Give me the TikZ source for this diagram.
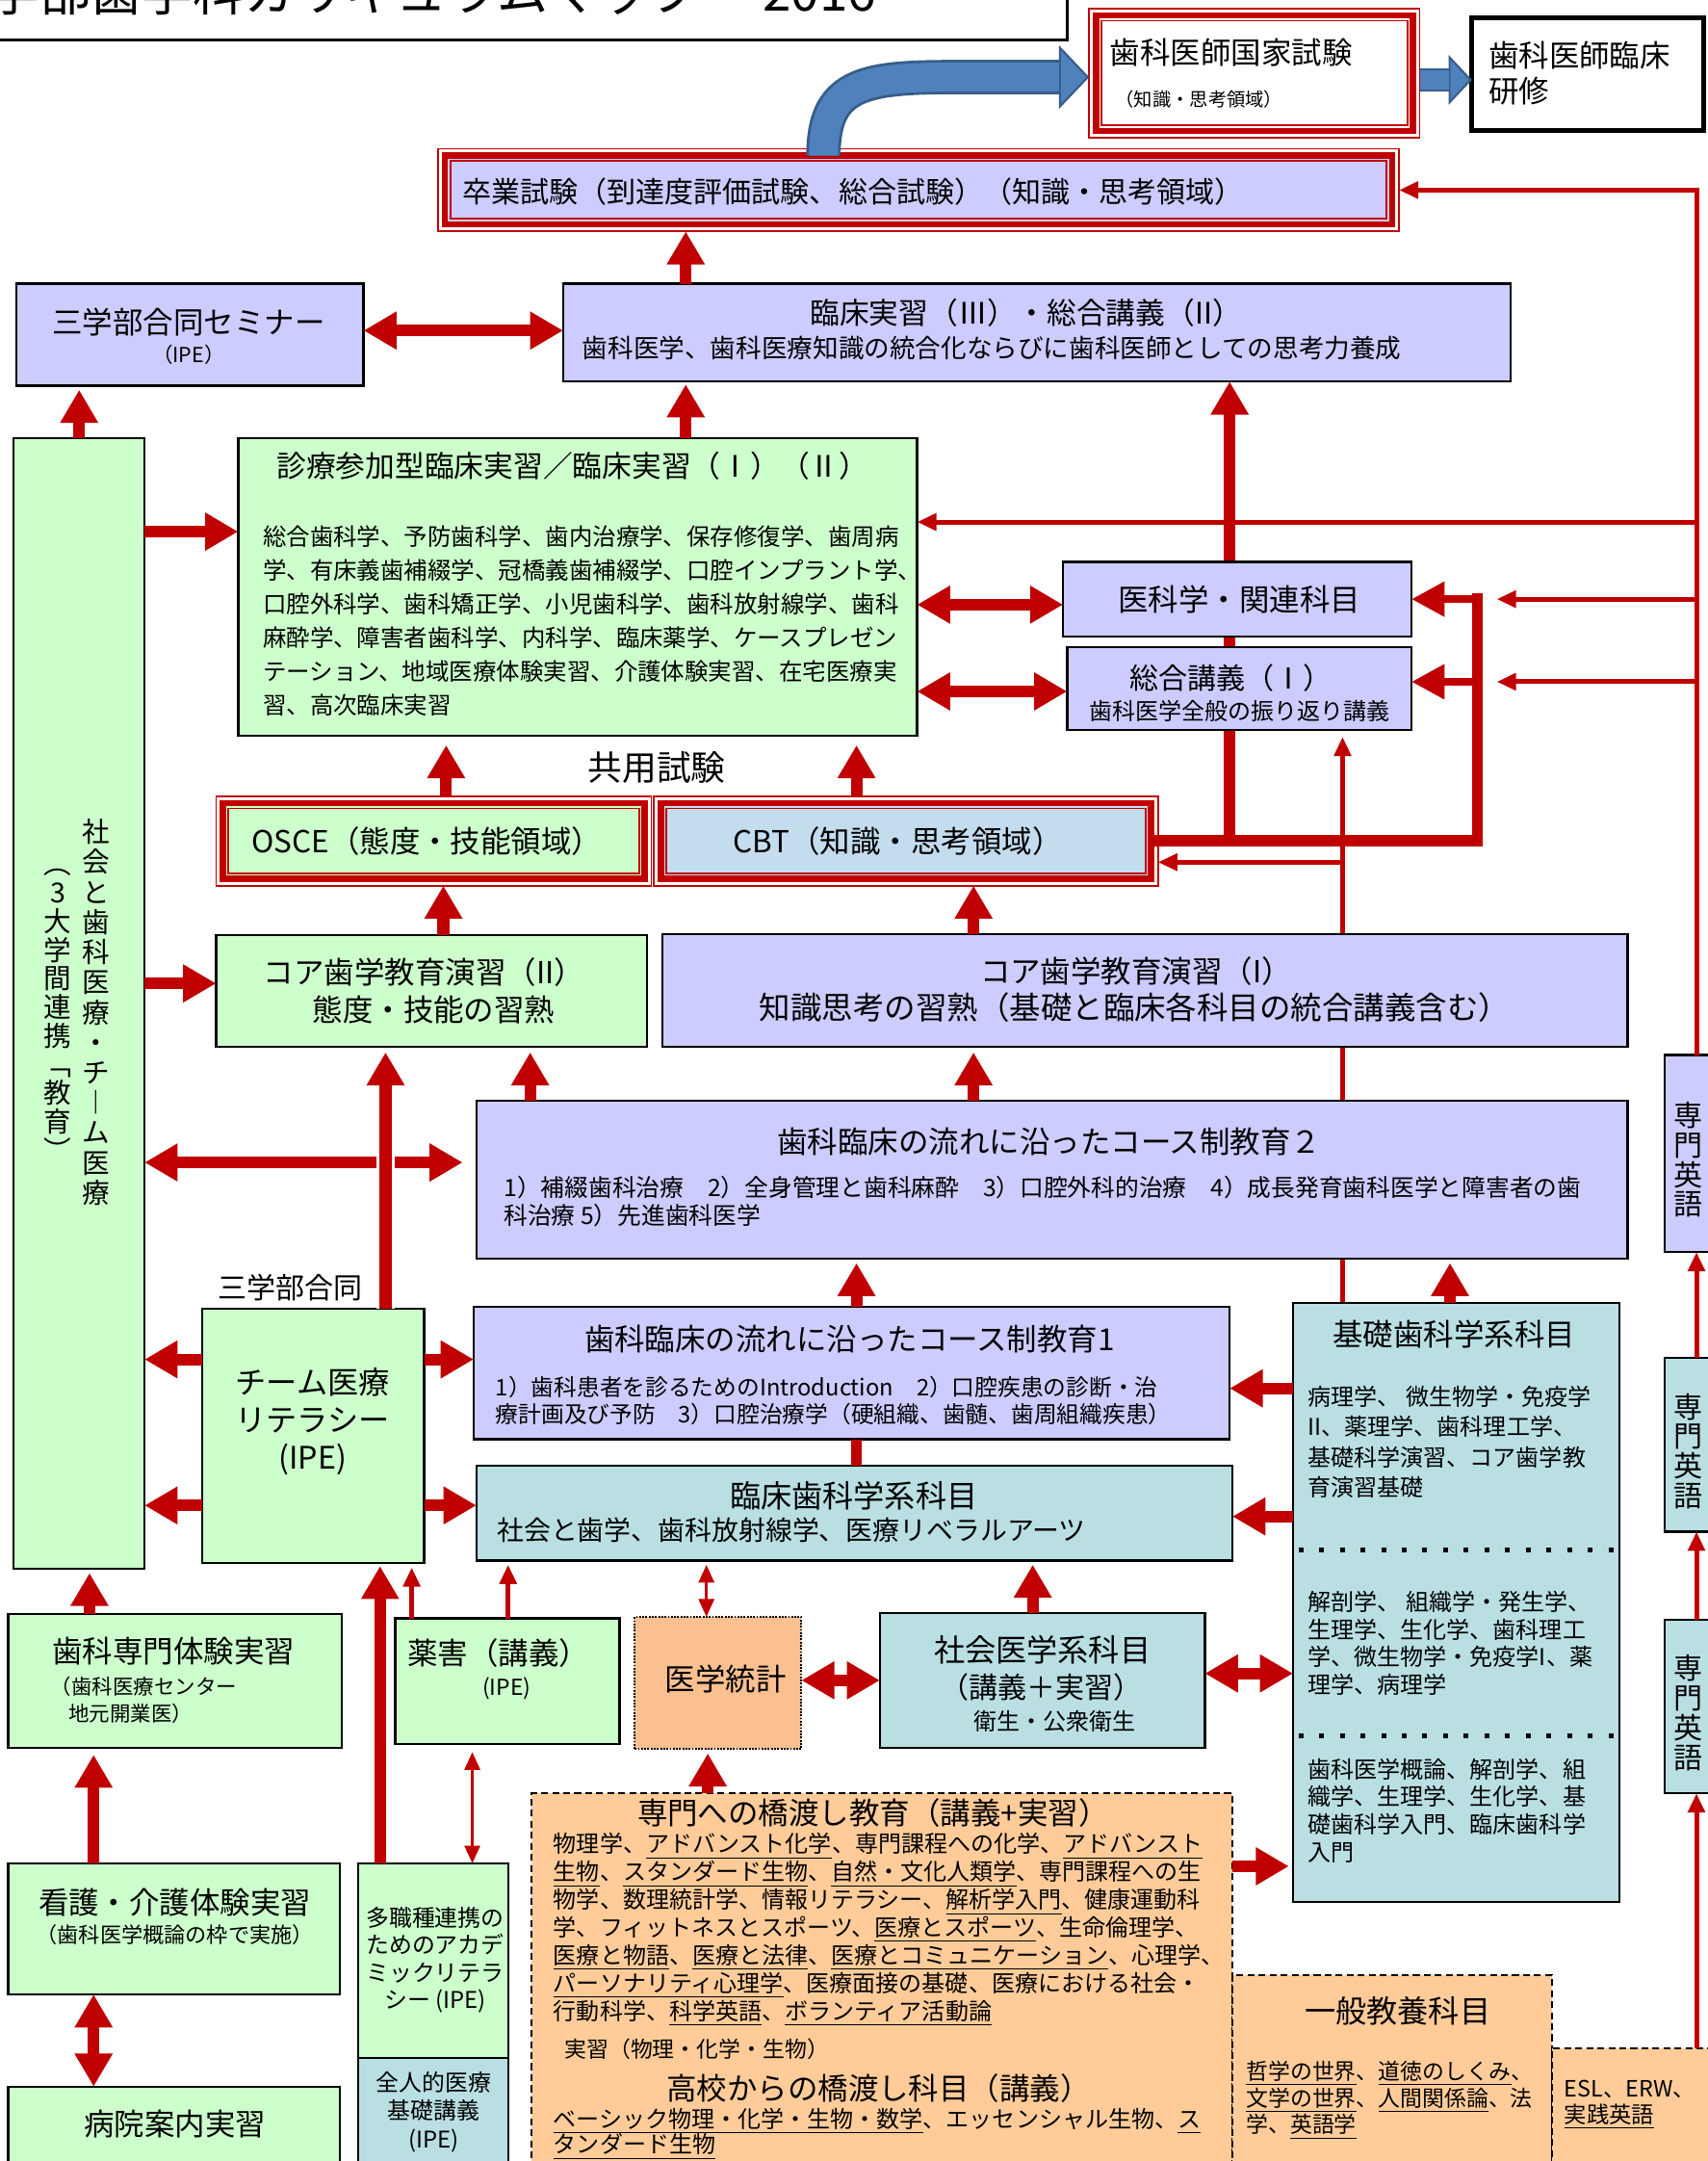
\documentclass[tikz,border=0pt]{standalone}
\usepackage{fontspec}
\setmainfont{Noto Sans CJK JP}
\usetikzlibrary{arrows.meta}
\definecolor{myred}{HTML}{C00000}
\definecolor{boxl}{HTML}{CCCCFF}
\definecolor{boxg}{HTML}{CCFFCC}
\definecolor{boxt}{HTML}{B9DFE3}
\definecolor{boxo}{HTML}{FFCC99}
\definecolor{boxs}{HTML}{FAC090}
\definecolor{boxc}{HTML}{C3DCEE}
\definecolor{bluea}{HTML}{4F81BD}
\definecolor{blueb}{HTML}{385D8A}
\newcommand{\ulx}[1]{\underline{\rule[-0.14em]{0pt}{0pt}#1}}
\pgfdeclarelayer{back}
\pgfsetlayers{back,main}
\tikzset{
    mybox/.style = {rectangle, draw=black, line width=1.6pt, inner sep=0pt, outer sep=0pt, align=center},
    myboxl/.style = {mybox, fill=boxl},
    myboxg/.style = {mybox, fill=boxg},
    myboxt/.style = {mybox, fill=boxt},
    myboxo/.style = {mybox, fill=boxo, line width=1.3pt, dash pattern=on 5pt off 3pt},
    myboxs/.style = {mybox, fill=boxs, line width=1.3pt, densely dotted},
    myboxr/.style = {mybox, draw=myred, line width=4.5pt},
    framer/.style = {draw=myred, line width=1.3pt},
    mytext/.style = {inner sep=0pt, outer sep=0pt, align=left},
    fbig/.style = {font=\fontsize{22}{26}\selectfont},
    edgek/.style = {-{Triangle[width=26pt,length=24pt]}, line width=8.5pt, myred},
    edgekk/.style = {{Triangle[width=26pt,length=24pt]}-{Triangle[width=26pt,length=24pt]}, line width=8.5pt, myred},
    edgem/.style = {-{Triangle[width=24pt,length=24pt]}, line width=6pt, myred},
    edget/.style = {-{Triangle[width=12pt,length=14pt]}, line width=3.5pt, myred},
    edgett/.style = {{Triangle[width=11pt,length=13pt]}-{Triangle[width=11pt,length=13pt]}, line width=2.5pt, myred},
    edgen/.style = {-, line width=8pt, line cap=rect, myred},
    edgeu/.style = {line width=25pt, blueb, -{Triangle[width=46pt,length=22pt,fill=bluea,line width=1.5pt]}},
    edgev/.style = {line width=17pt, blueb, -{Triangle[width=36pt,length=17pt,fill=bluea,line width=1.5pt]}},
    edgeui/.style = {line width=#1, bluea},
    kisodot/.style = {line width=3.5pt, dash pattern=on 3.5pt off 11.5pt, black}
}
\begin{document}
\begin{tikzpicture}[x=1pt,y=-1pt]
\useasboundingbox (0,0) rectangle (1240,1569);

% title and exams
\node[mybox, fill=white, line width=2.2pt, minimum width=790pt, minimum height=44pt] at (380,7) (titlebox) {};
\node[mytext, font=\fontsize{37}{40}\selectfont, anchor=west] at (-8,-6) (titlet) {学部歯学科カリキュラムマップ　 2016};
\node[myboxr, fill=white, minimum width=230pt, minimum height=84pt] at (911,53) (kokushi) {};
\node[mytext, fbig, anchor=west] at (806,38) (kokushit) {歯科医師国家試験};
\node[mytext, font=\fontsize{13.5}{16}\selectfont, anchor=west] at (810,72) (kokushib) {（知識・思考領域）};
\node[mybox, fill=white, line width=3.5pt, minimum width=168pt, minimum height=82pt] at (1153,54) (rinshu) {};
\node[mytext, fbig, anchor=west] at (1081,53) (rinshut) {歯科医師臨床\\研修};
\node[myboxr, fill=boxl, minimum width=688pt, minimum height=50pt] at (667,138) (sotsu) {};
\node[mytext, font=\fontsize{21}{24}\selectfont, anchor=west] at (336,139) (sotsut) {卒業試験（到達度評価試験、総合試験）（知識・思考領域）};

% upper boxes
\node[myboxl, minimum width=252pt, minimum height=74pt] at (138,243) (seminar) {};
\node[mytext, fbig] at (137,234) (seminart) {三学部合同セミナー};
\node[mytext, font=\fontsize{15}{18}\selectfont] at (137,257.5) (seminarb) {（IPE）};
\node[myboxl, minimum width=688pt, minimum height=71pt] at (753,241.5) (rinsho3) {};
\node[mytext, font=\fontsize{21.5}{24}\selectfont] at (745,227) (rinsho3t) {臨床実習（Ⅲ）・総合講義（II）};
\node[mytext, font=\fontsize{18.6}{22}\selectfont, anchor=west] at (423,253) (rinsho3b) {歯科医学、歯科医療知識の統合化ならびに歯科医師としての思考力養成};

\node[myboxg, minimum width=95pt, minimum height=821pt] at (57.5,728.5) (shakai) {};
\node[mytext, align=center, font=\fontsize{20}{21.83}\selectfont] at (70,735) (shakaia) {社\\会\\と\\歯\\科\\医\\療\\・\\チ\\︱\\ム\\医\\療};
\node[mytext, align=center, font=\fontsize{20}{20.8}\selectfont] at (42,737) (shakaib) {︵\\3\\大\\学\\間\\連\\携\\﹁\\教\\育\\︶};

\node[myboxg, minimum width=493pt, minimum height=216pt] at (419.5,426) (shinryo) {};
\node[mytext, font=\fontsize{21.5}{24}\selectfont] at (416,338) (shinryot) {診療参加型臨床実習／臨床実習（Ⅰ）（Ⅱ）};
\node[mytext, font=\fontsize{17.1}{24.5}\selectfont, anchor=west] at (191,450.75) (shinryob) {総合歯科学、予防歯科学、歯内治療学、保存修復学、歯周病\\学、有床義歯補綴学、冠橋義歯補綴学、口腔インプラント学、\\口腔外科学、歯科矯正学、小児歯科学、歯科放射線学、歯科\\麻酔学、障害者歯科学、内科学、臨床薬学、ケースプレゼン\\テーション、地域医療体験実習、介護体験実習、在宅医療実\\習、高次臨床実習};

\node[myboxl, minimum width=253pt, minimum height=54pt] at (898.5,435) (ika) {};
\node[mytext, fbig] at (900,435) (ikat) {医科学・関連科目};
\node[myboxl, minimum width=250pt, minimum height=60pt] at (900,500) (sogo1) {};
\node[mytext, font=\fontsize{21}{24}\selectfont] at (894,492) (sogo1t) {総合講義（Ⅰ）};
\node[mytext, font=\fontsize{16.8}{20}\selectfont] at (900,516) (sogo1b) {歯科医学全般の振り返り講義};

\node[mytext, font=\fontsize{25}{28}\selectfont] at (477,557) (kyoyo) {共用試験};
\node[myboxr, fill=boxg, minimum width=306pt, minimum height=55pt] at (315,610.5) (osce) {};
\node[mytext, fbig] at (310,611) (oscet) {OSCE（態度・技能領域）};
\node[myboxr, fill=boxc, minimum width=356pt, minimum height=55pt] at (658,610.5) (cbt) {};
\node[mytext, fbig] at (652,611) (cbtt) {CBT（知識・思考領域）};

\node[myboxg, minimum width=313pt, minimum height=81pt] at (313.5,719.5) (core2) {};
\node[mytext, fbig] at (308,706) (core2t) {コア歯学教育演習（II）};
\node[mytext, fbig] at (315,733) (core2b) {態度・技能の習熟};
\node[myboxl, minimum width=701pt, minimum height=82pt] at (831.5,719) (core1) {};
\node[mytext, fbig] at (825,705) (core1t) {コア歯学教育演習（I）};
\node[mytext, font=\fontsize{22.7}{26}\selectfont] at (824,731.5) (core1b) {知識思考の習熟（基礎と臨床各科目の統合講義含む）};

\node[myboxl, minimum width=836pt, minimum height=115pt] at (764,856.5) (course2) {};
\node[mytext, fbig] at (762,829) (course2t) {歯科臨床の流れに沿ったコース制教育２};
\node[mytext, font=\fontsize{17.3}{20.5}\selectfont, anchor=west] at (366,872.25) (course2b) {1）補綴歯科治療　2）全身管理と歯科麻酔　3）口腔外科的治療　4）成長発育歯科医学と障害者の歯\\科治療 5）先進歯科医学};

% middle boxes
\node[mytext, font=\fontsize{21}{24}\selectfont] at (211,935) (sangaku) {三学部合同};
\node[myboxg, minimum width=161pt, minimum height=185pt] at (227.5,1042.5) (team) {};
\node[mytext, align=center, font=\fontsize{22.5}{27.25}\selectfont] at (227,1032) (teamt) {チーム医療\\リテラシー\\(IPE)};
\node[myboxl, minimum width=549pt, minimum height=96pt] at (618.5,997) (course1) {};
\node[mytext, fbig] at (617,972) (course1t) {歯科臨床の流れに沿ったコース制教育1};
\node[mytext, font=\fontsize{16.6}{20}\selectfont, anchor=west] at (360,1017) (course1b) {1）歯科患者を診るためのIntroduction　2）口腔疾患の診断・治\\療計画及び予防　3）口腔治療学（硬組織、歯髄、歯周組織疾患）};
\node[myboxt, minimum width=549pt, minimum height=69pt] at (620.5,1098.5) (rinshoka) {};
\node[mytext, font=\fontsize{22.5}{26}\selectfont] at (620,1086) (rinshokat) {臨床歯科学系科目};
\node[mytext, font=\fontsize{19.5}{22}\selectfont, anchor=west] at (361,1111) (rinshokab) {社会と歯学、歯科放射線学、医療リベラルアーツ};

\node[myboxt, minimum width=237pt, minimum height=435pt] at (1057.5,1163.5) (kiso) {};
\node[mytext, fbig] at (1056,968.5) (kisot) {基礎歯科学系科目};
\node[mytext, font=\fontsize{16.8}{22}\selectfont, anchor=west] at (950,1047) (kisoa) {病理学、 微生物学・免疫学\\II、薬理学、歯科理工学、\\基礎科学演習、コア歯学教\\育演習基礎};
\node[mytext, font=\fontsize{16.8}{20}\selectfont, anchor=west] at (950,1193) (kisob) {解剖学、 組織学・発生学、\\生理学、生化学、歯科理工\\学、微生物学・免疫学I、薬\\理学、病理学};
\node[mytext, font=\fontsize{16.8}{20}\selectfont, anchor=west] at (950,1314.5) (kisoc) {歯科医学概論、解剖学、組\\織学、生理学、生化学、基\\礎歯科学入門、臨床歯科学\\入門};
\draw[kisodot] (943,1125) -- (1173,1125);
\draw[kisodot] (943,1260) -- (1173,1260);

\node[myboxg, minimum width=242pt, minimum height=97pt] at (127,1220.5) (senmon) {};
\node[mytext, fbig] at (126,1199) (senmont) {歯科専門体験実習};
\node[mytext, font=\fontsize{15}{19.5}\selectfont, anchor=west] at (37,1234) (senmonb) {（歯科医療センター\\\hspace*{13pt}地元開業医）};
\node[myboxg, minimum width=163pt, minimum height=91pt] at (368.5,1220.5) (yakugai) {};
\node[mytext, fbig] at (362,1200) (yakugait) {薬害（講義）};
\node[mytext, font=\fontsize{16}{19}\selectfont] at (368,1226) (yakugaib) {(IPE)};
\node[myboxs, minimum width=121pt, minimum height=96pt] at (521.5,1222) (toukei) {};
\node[mytext, fbig] at (527,1219) (toukeit) {医学統計};
\node[myboxt, minimum width=236pt, minimum height=98pt] at (757,1220) (shakaii) {};
\node[mytext, font=\fontsize{22.5}{26}\selectfont] at (757,1198) (shakaiit) {社会医学系科目};
\node[mytext, font=\fontsize{21}{24}\selectfont] at (756,1225) (shakaiim) {（講義＋実習）};
\node[mytext, font=\fontsize{16.8}{20}\selectfont] at (766,1250) (shakaiib) {衛生・公衆衛生};

% lower boxes
\node[myboxo, minimum width=509pt, minimum height=290pt] at (640.5,1447) (bridge) {};
\node[mytext, fbig] at (634,1316) (bridget) {専門への橋渡し教育（講義+実習）};
\node[mytext, font=\fontsize{16.8}{20.2}\selectfont, anchor=west] at (402,1400.7) (bridgea) {物理学、\ulx{アドバンスト化学}、専門課程への化学、\ulx{アドバンスト}\\\ulx{生物}、\ulx{スタンダード生物}、\ulx{自然・文化人類学}、専門課程への生\\物学、数理統計学、情報リテラシー、\ulx{解析学入門}、健康運動科\\学、フィットネスとスポーツ、\ulx{医療とスポーツ}、生命倫理学、\\\ulx{医療と物語}、\ulx{医療と法律}、\ulx{医療とコミュニケーション}、心理学、\\\ulx{パーソナリティ心理学}、医療面接の基礎、医療における社会・\\行動科学、\ulx{科学英語}、\ulx{ボランティア活動論}};
\node[mytext, font=\fontsize{16}{19}\selectfont, anchor=west] at (410,1488) (bridgeb) {実習（物理・化学・生物）};
\node[mytext, fbig] at (638,1516) (bridgec) {高校からの橋渡し科目（講義）};
\node[mytext, font=\fontsize{16.8}{18.6}\selectfont, anchor=west] at (402,1549) (bridged) {\ulx{ベーシック物理・化学・生物・数学}、エッセンシャル生物、\ulx{ス}\\\ulx{タンダード生物}};
\node[myboxo, minimum width=232pt, minimum height=160pt] at (1011,1514) (ippan) {};
\node[mytext, font=\fontsize{22.5}{26}\selectfont] at (1015,1460) (ippant) {一般教養科目};
\node[mytext, font=\fontsize{16}{19.5}\selectfont, anchor=west] at (905,1524.5) (ippanb) {\ulx{哲学の世界}、\ulx{道徳のしくみ}、\\\ulx{文学の世界}、\ulx{人間関係論}、法\\学、\ulx{英語学}};
\node[myboxo, minimum width=140pt, minimum height=110pt] at (1197,1542) (esl) {};
\node[mytext, font=\fontsize{16.3}{18.5}\selectfont, anchor=west] at (1136,1528) (eslt) {ESL、ERW、\\\ulx{実践英語}};

\node[myboxg, minimum width=241pt, minimum height=95pt] at (126.5,1400.5) (kango) {};
\node[mytext, fbig] at (127,1381) (kangot) {看護・介護体験実習};
\node[mytext, font=\fontsize{15.5}{18}\selectfont] at (127,1405) (kangob) {（歯科医学概論の枠で実施）};
\node[myboxg, minimum width=241pt, minimum height=64pt] at (126.5,1547) (byoin) {};
\node[mytext, fbig] at (127,1542) (byoint) {病院案内実習};
\node[myboxg, minimum width=109pt, minimum height=141pt] at (314.5,1423.5) (tashoku) {};
\node[mytext, align=center, font=\fontsize{16.7}{20}\selectfont] at (316,1423) (tashokut) {多職種連携の\\ためのアカデ\\ミックリテラ\\シー (IPE)};
\node[myboxt, minimum width=109pt, minimum height=82pt] at (314.5,1535) (zenjin) {};
\node[mytext, align=center, font=\fontsize{16.7}{20.5}\selectfont] at (315,1533.5) (zenjint) {全人的医療\\基礎講義\\(IPE)};

\node[myboxl, minimum width=45pt, minimum height=143pt] at (1231.5,837.5) (eigo1) {};
\node[myboxt, minimum width=45pt, minimum height=126pt] at (1231.5,1049) (eigo2) {};
\node[myboxt, minimum width=45pt, minimum height=126pt] at (1231.5,1239) (eigo3) {};
\foreach \n/\y in {eigo1t/842,eigo2t/1053.5,eigo3t/1243.5}
    \node[mytext, align=center, font=\fontsize{21}{21.5}\selectfont] at (1226,\y) (\n) {専\\門\\英\\語};

\foreach \n in {kokushi,sotsu,osce,cbt} {
    \draw[framer] ([shift={(-5,-5)}]\n.north west) rectangle ([shift={(5,5)}]\n.south east);
    \draw[framer] ([shift={(4,4)}]\n.north west) rectangle ([shift={(-4,-4)}]\n.south east);
}

% lines behind the boxes
\begin{pgfonlayer}{back}
\draw[edgen] (cbt.east) -- (cbt.east -| 1073,0) -- (ika.east -| 1073,0);
\draw[edgek] (cbt.east -| 893,0) -- (rinsho3.south -| 893,0);
\draw[edget, shorten >=5pt] (kiso.north -| 975,0) -- (sogo1.south -| 975,0);
\end{pgfonlayer}

% right rail
\coordinate (cbtjoin) at (975,626);
\coordinate (railshin) at (1232,379);
\coordinate (railsogo) at (1232,495);
\draw[edget, shorten >=5pt] (cbtjoin) -- (cbt.east |- cbtjoin);
\draw[edget] (esl.north -| 1232,0) -- (eigo3.south -| 1232,0);
\draw[edget] (eigo3.north -| 1232,0) -- (eigo2.south -| 1232,0);
\draw[edget] (eigo2.north -| 1232,0) -- (eigo1.south -| 1232,0);
\draw[edget, shorten >=5pt] (eigo1.north -| 1232,0) |- (sotsu.east);
\draw[edget] (railshin) -- (shinryo.east |- railshin);
\draw[edget] (ika.east -| 1232,0) -- (ika.east -| 1087,0);
\draw[edget] (railsogo) -- (railsogo -| 1087,0);
\draw[edgem] (ika.east -| 1073,0) -- (ika.east);
\draw[edgem] (railsogo -| 1073,0) -- (railsogo -| sogo1.east);

% block arrows
\draw[edgek, shorten >=5pt] (rinsho3.north -| 498,0) -- (sotsu.south -| 498,0);
\draw[edgekk] (seminar.east |- 0,240) -- (rinsho3.west |- 0,240);
\draw[edgek, shorten >=3pt] (shakai.north) -- (shakai.north |- seminar.south);
\draw[edgek, shorten >=2pt] (shinryo.north -| 498,0) -- (rinsho3.south -| 498,0);
\draw[edgek] (shakai.east |- 0,386) -- (shinryo.west |- 0,386);
\draw[edgekk] (shinryo.east |- 0,439) -- (ika.west |- 0,439);
\draw[edgekk] (shinryo.east |- 0,502) -- (sogo1.west |- 0,502);
\draw[edgek, shorten <=5pt, shorten >=7pt] (osce.north -| 324,0) -- (shinryo.south -| 324,0);
\draw[edgek, shorten <=5pt, shorten >=7pt] (cbt.north -| 622,0) -- (shinryo.south -| 622,0);
\draw[edgek, shorten >=5pt] (core2.north -| 322,0) -- (osce.south -| 322,0);
\draw[edgek, shorten >=5pt] (core1.north -| 707,0) -- (cbt.south -| 707,0);
\draw[edgek] (shakai.east |- 0,714) -- (core2.west |- 0,714);
\draw[edgek, shorten >=4pt] (course2.north -| 385,0) -- (core2.south -| 385,0);
\draw[edgek, shorten >=4pt] (course2.north -| 707,0) -- (core1.south -| 707,0);
\draw[edgekk, shorten >=10pt] (shakai.east |- 0,844) -- (course2.west |- 0,844);
\draw[edgek, shorten >=4pt, preaction={draw=white, line width=13pt}] (team.north -| 280,0) -- (core2.south -| 280,0);
\draw[edgek] (team.west |- 0,987) -- (shakai.east |- 0,987);
\draw[edgek] (team.west |- 0,1093) -- (shakai.east |- 0,1093);
\draw[edgek] (team.east |- 0,987) -- (course1.west |- 0,987);
\draw[edgek] (team.east |- 0,1093) -- (rinshoka.west |- 0,1093);
\draw[edgek, shorten >=3pt] (course1.north -| 622,0) -- (course2.south -| 622,0);
\draw[edgen, line cap=butt] (course1.south -| 622,0) -- (rinshoka.north -| 622,0);
\draw[edgek] (kiso.west |- 0,1008) -- (course1.east |- 0,1008);
\draw[edgek] (kiso.west |- 0,1101) -- (rinshoka.east |- 0,1101);
\draw[edgek, shorten >=3pt] (kiso.north -| 1053,0) -- (course2.south -| 1053,0);
\draw[edgek, shorten >=3pt] (senmon.north -| 65,0) -- (shakai.south -| 65,0);
\draw[edgekk] (toukei.east |- 0,1220) -- (shakaii.west |- 0,1220);
\draw[edgek, shorten >=3pt] (shakaii.north -| 750,0) -- (rinshoka.south -| 750,0);
\draw[edgekk] (shakaii.east |- 0,1215) -- (kiso.west |- 0,1215);
\draw[edgek, shorten >=3pt] (bridge.north -| 514,0) -- (toukei.south -| 514,0);
\draw[edgek, shorten >=3pt] (bridge.east |- 0,1355) -- (kiso.west |- 0,1355);
\draw[edgek, shorten >=5pt] (kango.north -| 68,0) -- (senmon.south -| 68,0);
\draw[edgekk] (kango.south -| 68,0) -- (byoin.north -| 68,0);
\draw[edgek, shorten >=2pt] (tashoku.north -| 276,0) -- (team.south -| 276,0);
\draw[edget, shorten >=3pt] (yakugai.north -| 299,0) -- (team.south -| 299,0);
\draw[edget, shorten >=3pt] (yakugai.north -| 369,0) -- (rinshoka.south -| 369,0);
\draw[edgett, shorten >=3pt] (toukei.north -| 513,0) -- (rinshoka.south -| 513,0);
\draw[edgett, shorten <=6pt] (yakugai.south -| 343,0) -- (tashoku.north -| 343,0);

% blue arrows
\draw[edgeu, shorten >=5pt] (sotsu.north -| 598,0) .. controls (598,62) and (625,56) .. (690,56) -- (kokushi.west |- 0,56);
\draw[edgeui=21pt, shorten >=27pt] (sotsu.north -| 598,0) .. controls (598,62) and (625,56) .. (690,56) -- (kokushi.west |- 0,56);
\draw[edgev, shorten <=5pt] (kokushi.east |- 0,58) -- (rinshu.west |- 0,58);
\draw[edgeui=13.5pt, shorten <=5pt, shorten >=17pt] (kokushi.east |- 0,58) -- (rinshu.west |- 0,58);

\end{tikzpicture}
\end{document}
